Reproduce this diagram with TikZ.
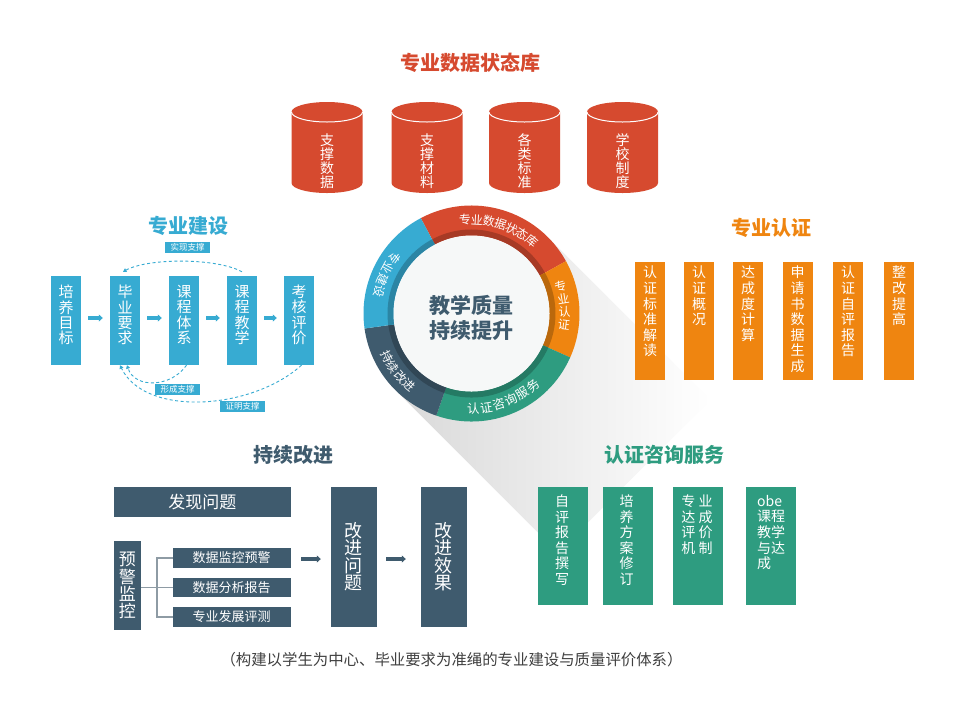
\documentclass[tikz,border=0pt]{standalone}
\usepackage{fontspec}
\setmainfont{Noto Sans CJK SC}
\usetikzlibrary{arrows.meta,calc}
\definecolor{cred}{HTML}{D64A2F}
\definecolor{corange}{HTML}{EF8510}
\definecolor{cgreen}{HTML}{2E9C80}
\definecolor{cslate}{HTML}{3F5B6E}
\definecolor{cblue}{HTML}{37ABD2}
\definecolor{cgray}{HTML}{8E9BA4}
\definecolor{ccap}{HTML}{404040}
\definecolor{cinner}{HTML}{F6F8F8}
\tikzset{
  ttl/.style={font=\bfseries\fontsize{20}{24}\selectfont, inner sep=0pt},
  wtxt/.style={text=white, align=center, inner sep=0pt},
  cyltxt/.style={wtxt, font=\fontsize{14}{14}\selectfont},
  bluebox/.style={fill=cblue, inner sep=0pt, minimum width=30pt, minimum height=89pt},
  btxt/.style={wtxt, font=\fontsize{15}{15.3}\selectfont},
  orbox/.style={fill=corange, inner sep=0pt, minimum width=30pt, minimum height=118.3pt},
  grbox/.style={fill=cgreen, inner sep=0pt, minimum width=50pt, minimum height=118.3pt},
  stxt/.style={wtxt, font=\fontsize{14}{15.6}\selectfont},
  slbox/.style={fill=cslate, inner sep=0pt, text=white, align=center},
  lbl/.style={fill=cblue, text=white, inner sep=0pt, minimum width=45pt, minimum height=11pt, font=\fontsize{8.5}{9}\selectfont},
  arr/.style={line width=3.5pt, -{Triangle[length=4pt,width=7pt]}},
  dsh/.style={cblue, line width=0.9pt, dash pattern=on 3pt off 2.5pt, -{Triangle[length=3.5pt,width=4pt]}},
  brk/.style={cgray, line width=1.5pt},
  ringlbl/.style={text=white, inner sep=0pt, font=\fontsize{12}{12}\selectfont},
}
\begin{document}
\begin{tikzpicture}[x=1pt,y=-1pt]
\fill[white] (0,0) rectangle (960,721);
\useasboundingbox (0,0) rectangle (960,721);

% ---- shadow of ring
\begin{scope}[shift={(471.5,313.5)}, rotate=-45]
  \shade[left color=black!15, right color=white] (0,-108) rectangle (230,108);
\end{scope}

% ---- top: data state library
\node[ttl, text=cred] (t1) at (470,63) {专业数据状态库};
\foreach \cx/\txt [count=\i] in {327/{支\\撑\\数\\据}, 427/{支\\撑\\材\\料}, 524.5/{各\\类\\标\\准}, 622.5/{学\\校\\制\\度}} {
  \fill[cred] (\cx-35.5,112) -- (\cx-35.5,183) arc[start angle=180, end angle=0, x radius=35.5, y radius=10]
     -- (\cx+35.5,112) arc[start angle=0, end angle=-180, x radius=35.5, y radius=10] -- cycle;
  \draw[white, line width=1pt] (\cx-35.5,112) arc[start angle=180, end angle=0, x radius=35.5, y radius=10];
  \node[cyltxt] (cyl\i) at (\cx,161) {\txt};
}

% ---- left: professional construction
\node[ttl, text=cblue] (t2) at (188,226) {专业建设};
\foreach \bx/\txt [count=\i] in {66/{培\\养\\目\\标}, 125/{毕\\业\\要\\求}, 184/{课\\程\\体\\系}, 242/{课\\程\\教\\学}, 299/{考\\核\\评\\价}} {
  \node[bluebox] (b\i) at (\bx,320.5) {};
  \node[btxt] (bt\i) at (\bx,315) {\txt};
}
\foreach \i/\j in {1/2,2/3,3/4,4/5}
  \draw[arr, cblue] ([xshift=7pt,yshift=2.5pt]b\i.east) -- ([xshift=-7pt,yshift=2.5pt]b\j.west);
\draw[dsh] ([yshift=4pt]b4.north) .. controls +(-25,-14) and +(25,-14) .. ([xshift=-2pt,yshift=4pt]b2.north);
\draw[dsh] ([xshift=2.5pt]b3.south) .. controls +(-15,22) and +(8,24) .. ([xshift=2pt]b2.south);
\draw[dsh] ([xshift=2.5pt]b5.south) .. controls +(-50,45) and +(25,52) .. ([xshift=-5pt]b2.south);
\node[lbl] (l1) at (187.5,247.5) {实现支撑};
\node[lbl] (l2) at (177.5,389.5) {形成支撑};
\node[lbl] (l3) at (242.5,406) {证明支撑};

% ---- ring
\begin{scope}[shift={(471.5,313.5)}, yscale=-1]
  \foreach \a/\b/\col in {29/118/cred, -24/29/corange, -109/-24/cgreen, 188/251/cslate, 118/188/cblue} {
    \fill[\col] (\a:108) arc[start angle=\a, end angle=\b, radius=108] -- (\b:78) arc[start angle=\b, end angle=\a, radius=78] -- cycle;
    \fill[\col!78!black] (\a:84) arc[start angle=\a, end angle=\b, radius=84] -- (\b:78) arc[start angle=\b, end angle=\a, radius=78] -- cycle;
  }
  \fill[cinner] (0,0) circle[radius=78];
  \foreach \ch [count=\i from 0] in {专,业,数,据,状,态,库}
    \node[ringlbl, rotate={94-7.3*\i-90}] (rr\i) at ({94-7.3*\i}:94) {\ch};
  \foreach \ch [count=\i from 0] in {专,业,认,证}
    \node[ringlbl, rotate={17-8*\i}] (ro\i) at ({17-8*\i}:93) {\ch};
  \foreach \ch [count=\i from 0] in {认,证,咨,询,服,务}
    \node[ringlbl, font=\fontsize{12.5}{12.5}\selectfont, rotate={-89+7.9*\i+90}] (rg\i) at ({-89+7.9*\i}:95) {\ch};
  \foreach \ch [count=\i from 0] in {持,续,改,进}
    \node[ringlbl, rotate={207+7.3*\i+90}] (rs\i) at ({207+7.3*\i}:95) {\ch};
  \foreach \ch [count=\i from 0] in {专,业,建,设}
    \node[ringlbl, rotate={144+7.5*\i+90}] (rb\i) at ({144+7.5*\i}:95) {\ch};
\end{scope}
\node[text=cslate, align=center, inner sep=0pt, font=\bfseries\fontsize{21}{25}\selectfont] (ctr) at (471.5,317.5) {教学质量\\持续提升};

% ---- right: certification
\node[ttl, text=corange] (t3) at (771.7,228.3) {专业认证};
\foreach \rx/\txt [count=\i] in {650/{认\\证\\标\\准\\解\\读}, 699/{认\\证\\概\\况}, 748/{达\\成\\度\\计\\算}, 797.7/{申\\请\\书\\数\\据\\生\\成}, 848/{认\\证\\自\\评\\报\\告}, 899/{整\\改\\提\\高}} {
  \node[orbox] (r\i) at (\rx,320.85) {};
  \node[stxt, anchor=north] (rt\i) at (\rx,266) {\txt};
}

% ---- bottom left: continuous improvement
\node[ttl, text=cslate] (t4) at (293.3,455) {持续改进};
\node[slbox, minimum width=176.7pt, minimum height=30pt, font=\fontsize{17}{17}\selectfont] (fx) at (202.35,501.7) {发现问题};
\node[slbox, minimum width=26.7pt, minimum height=89pt, font=\fontsize{17}{17.3}\selectfont] (yj) at (127.35,585.5) {预\\警\\监\\控};
\node[slbox, minimum width=118pt, minimum height=19.5pt, font=\fontsize{13}{13}\selectfont] (s1) at (231.7,557.85) {数据监控预警};
\node[slbox, minimum width=118pt, minimum height=19.5pt, font=\fontsize{13}{13}\selectfont] (s2) at (231.7,587.65) {数据分析报告};
\node[slbox, minimum width=118pt, minimum height=19.5pt, font=\fontsize{13}{13}\selectfont] (s3) at (231.7,617) {专业发展评测};
\coordinate (jn) at ($(s2.west)+(-15.4,0)$);
\draw[brk] (yj.east |- s2.west) -- (s2.west);
\draw[brk] (s1.west) -- (s1.west -| jn) -- (s3.west -| jn) -- (s3.west);
\node[slbox, minimum width=45.7pt, minimum height=140pt, font=\fontsize{18}{17.5}\selectfont] (gj) at (353.85,556.7) {改\\进\\问\\题};
\node[slbox, minimum width=45.7pt, minimum height=140pt, font=\fontsize{18}{17.5}\selectfont] (gx) at (443.85,556.7) {改\\进\\效\\果};
\draw[arr, cslate, line width=4pt] ([xshift=10.3pt,yshift=-1.15pt]s1.east) -- ([xshift=-10pt,yshift=-2.3pt]gj.west);
\draw[arr, cslate, line width=4pt] ([xshift=9.3pt,yshift=-2.3pt]gj.east) -- ([xshift=-15pt,yshift=-2.3pt]gx.west);

% ---- bottom right: consulting service
\node[ttl, text=cgreen] (t5) at (664,455) {认证咨询服务};
\node[grbox] (g1) at (563,545.85) {};
\node[grbox] (g2) at (627.7,545.85) {};
\node[grbox] (g3) at (697.7,545.85) {};
\node[grbox] (g4) at (771,545.85) {};
\node[stxt, anchor=north] (gt1) at (562,494.5) {自\\评\\报\\告\\撰\\写};
\node[stxt, anchor=north] (gt2) at (626.7,494.5) {培\\养\\方\\案\\修\\订};
\node[stxt, anchor=north] (gt3) at (697,494.5) {专 业\\达 成\\评 价\\机 制};
\node[stxt, anchor=north west, align=left] (gt4) at (757,494.5) {\vphantom{课}obe\\课程\\教学\\与达\\成};

% ---- caption
\node[text=ccap, inner sep=0pt, font=\fontsize{15.4}{15.4}\selectfont] (cap) at (451.5,660) {（构建以学生为中心、毕业要求为准绳的专业建设与质量评价体系）};
\end{tikzpicture}
\end{document}
